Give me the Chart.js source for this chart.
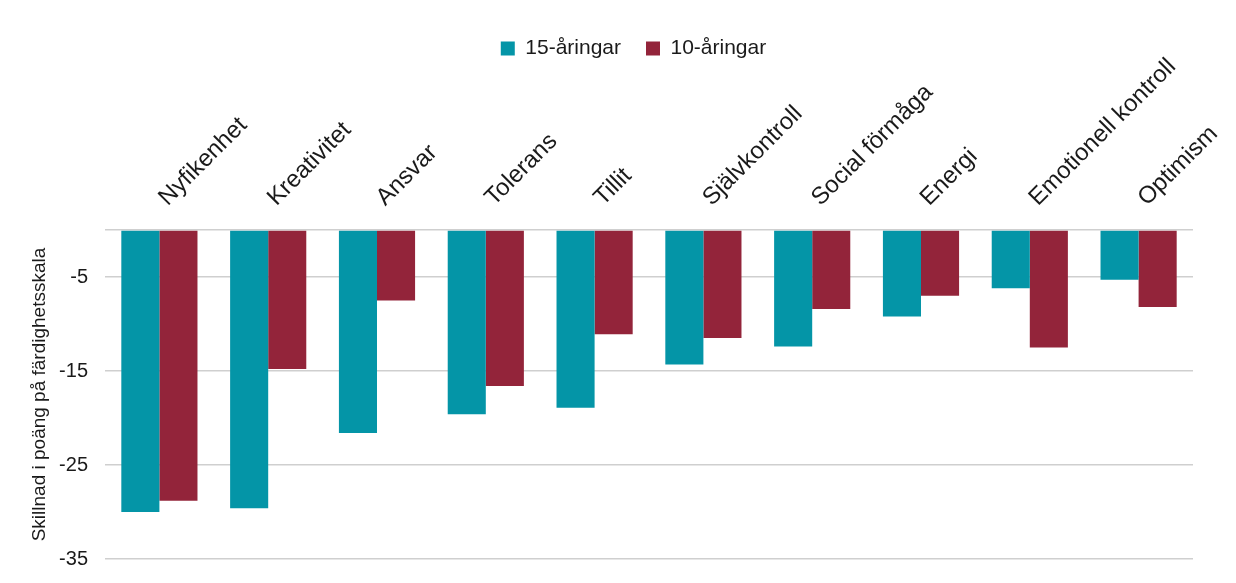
<!DOCTYPE html>
<html>
<head>
<meta charset="utf-8">
<script src="https://cdn.jsdelivr.net/npm/chart.js@4/dist/chart.umd.min.js"></script>
<style>
  html, body { margin: 0; padding: 0; background: #fff; }
  #wrap { width: 1236px; height: 583px; }
</style>
</head>
<body>
<div id="wrap"><canvas id="chart"></canvas></div>
<script>
// Data
const categories = ['Nyfikenhet', 'Kreativitet', 'Ansvar', 'Tolerans', 'Tillit',
  'Självkontroll', 'Social förmåga', 'Energi', 'Emotionell kontroll', 'Optimism'];
const age15 = [-30.0, -29.6, -21.6, -19.6, -18.9, -14.3, -12.4, -9.2, -6.2, -5.3];
const age10 = [-28.8, -14.8, -7.5, -16.6, -11.1, -11.5, -8.4, -7.0, -12.5, -8.2];
const yTicks = [-35, -25, -15, -5, 0];

const font = 'Arial, "Liberation Sans", sans-serif';

const layoutTweaks = {
    id: 'layoutTweaks',
    afterLayout(chart) {
        // legend sits over the plot rather than the whole canvas
        chart.legend.left += 23;
        chart.legend.right += 23;
        // long category labels run up beside the legend, don't clip them
        chart.scales.x.top = 0;
    }
};

new Chart(document.getElementById('chart'), {
    type: 'bar',
    data: {
        labels: categories,
        datasets: [
            { label: '15-åringar', data: age15, backgroundColor: '#0495a7' },
            { label: '10-åringar', data: age10, backgroundColor: '#93243a' }
        ]
    },
    options: {
        responsive: true,
        maintainAspectRatio: false,
        animation: false,
        layout: { padding: { left: 28, right: 43, top: 13, bottom: 24 } },
        datasets: {
            bar: { categoryPercentage: 0.7, barPercentage: 1.0 }
        },
        scales: {
            x: {
                position: 'top',
                grid: { display: false },
                border: { display: false },
                afterFit: s => {
                    s.height = 161;
                    s.paddingLeft = 0;
                    s.paddingRight = 0;
                },
                ticks: {
                    color: '#1a1a1a',
                    font: { family: font, size: 24 },
                    minRotation: 45,
                    maxRotation: 45,
                    padding: 10,
                    labelOffset: 24
                }
            },
            y: {
                min: -35,
                max: 0,
                afterBuildTicks: axis => { axis.ticks = yTicks.map(v => ({ value: v })); },
                afterFit: s => {
                    s.width = 77;
                    s.paddingTop = 0;
                    s.paddingBottom = 0;
                },
                grid: { color: '#cfcfcf', lineWidth: 1.5, drawTicks: false },
                border: { display: false },
                ticks: {
                    color: '#1a1a1a',
                    font: { family: font, size: 20 },
                    padding: 17,
                    callback: v => v === 0 ? '' : v
                },
                title: {
                    display: true,
                    text: 'Skillnad i poäng på färdighetsskala',
                    color: '#1a1a1a',
                    font: { family: font, size: 19 },
                    padding: { top: 0, bottom: 8 }
                }
            }
        },
        plugins: {
            legend: {
                position: 'top',
                labels: {
                    color: '#1a1a1a',
                    font: { family: font, size: 21 },
                    boxWidth: 14,
                    boxHeight: 14,
                    padding: 25
                }
            },
            tooltip: { enabled: false }
        }
    },
    plugins: [layoutTweaks]
});
</script>
</body>
</html>
